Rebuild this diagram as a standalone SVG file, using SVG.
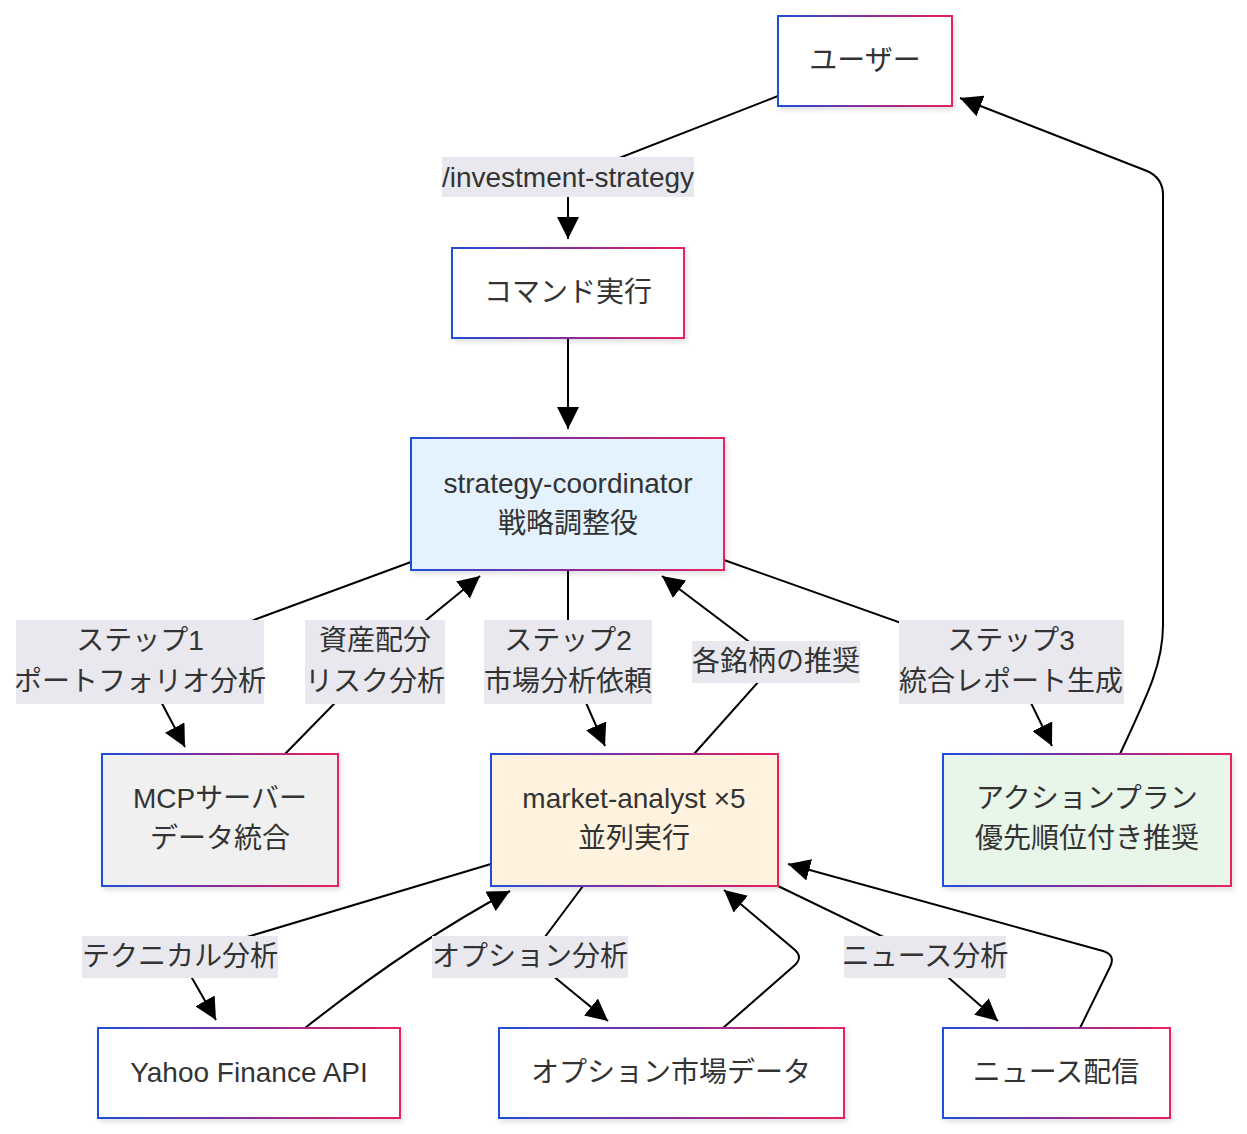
<svg xmlns="http://www.w3.org/2000/svg" width="1247" height="1134" viewBox="0 0 1247 1134">
<defs>
<linearGradient id="bd" x1="0" y1="0" x2="1" y2="0">
<stop offset="0" stop-color="#1f4fd8"/>
<stop offset="0.5" stop-color="#8a2c9a"/>
<stop offset="1" stop-color="#e8215e"/>
</linearGradient>
<filter id="sh" x="-10%" y="-10%" width="130%" height="130%">
<feDropShadow dx="2" dy="3" stdDeviation="2.5" flood-color="#000" flood-opacity="0.12"/>
</filter>
<marker id="ah" viewBox="0 0 10 10" refX="10" refY="5" markerUnits="userSpaceOnUse" markerWidth="22" markerHeight="22" orient="auto">
<path d="M0,0 L10,5 L0,10 z" fill="#000"/>
</marker>
</defs>
<style>
.n rect{stroke:url(#bd);stroke-width:2;filter:url(#sh)}
.t{font-family:"Liberation Sans","Noto Sans CJK JP",sans-serif;font-size:28px;fill:#333;text-anchor:middle;dominant-baseline:central}
.e{fill:none;stroke:#000;stroke-width:2;marker-end:url(#ah)}
.lb{fill:#e8e8ee}
</style>
<rect width="1247" height="1134" fill="#fff"/>
<g id="connectors">
<path class="e" d="M778,96 L568,178 L568,239"/>
<path class="e" d="M568,338 L568,429"/>
<path class="e" d="M411,562 L140,662 L185,747"/>
<path class="e" d="M285,754 L375,662 L480,576"/>
<path class="e" d="M568,570 L568,662 L605,746"/>
<path class="e" d="M694,754 L776,662 L662,576"/>
<path class="e" d="M724,560 L1011,662 L1052,746"/>
<path class="e" d="M1120,754 C1150,690 1163,662 1163,625 L1163,195 Q1163,178 1147,171 L960,98"/>
<path class="e" d="M491,864 L180,957 L216,1020"/>
<path class="e" d="M305,1028 Q414,942 510,891"/>
<path class="e" d="M583,886 L530,957 L608,1021"/>
<path class="e" d="M723,1028 L795,965 Q803,957 795,950 L724,890"/>
<path class="e" d="M778,886 L925,957 L998,1021"/>
<path class="e" d="M1080,1028 L1110,967 Q1116,955 1103,951 L788,864"/>
</g>
<g id="edge-labels">
<g id="lbl-invest"><rect class="lb" x="442" y="157" width="252" height="40"/><text class="t" x="568" y="177">/investment-strategy</text></g>
<g id="lbl-step1"><rect class="lb" x="16" y="620" width="248" height="84"/><text class="t" x="140" y="640">ステップ1</text><text class="t" x="140" y="681">ポートフォリオ分析</text></g>
<g id="lbl-asset"><rect class="lb" x="305" y="620" width="140" height="84"/><text class="t" x="375" y="640">資産配分</text><text class="t" x="375" y="681">リスク分析</text></g>
<g id="lbl-step2"><rect class="lb" x="484" y="620" width="168" height="84"/><text class="t" x="568" y="640">ステップ2</text><text class="t" x="568" y="681">市場分析依頼</text></g>
<g id="lbl-rec"><rect class="lb" x="692" y="641" width="168" height="42"/><text class="t" x="776" y="661">各銘柄の推奨</text></g>
<g id="lbl-step3"><rect class="lb" x="899" y="620" width="225" height="84"/><text class="t" x="1011" y="640">ステップ3</text><text class="t" x="1011" y="681">統合レポート生成</text></g>
<g id="lbl-tech"><rect class="lb" x="82" y="936" width="196" height="42"/><text class="t" x="180" y="956">テクニカル分析</text></g>
<g id="lbl-opt"><rect class="lb" x="432" y="936" width="196" height="42"/><text class="t" x="530" y="956">オプション分析</text></g>
<g id="lbl-news"><rect class="lb" x="844" y="936" width="162" height="42"/><text class="t" x="925" y="956">ニュース分析</text></g>
</g>
<g id="user" class="n"><rect x="778" y="16" width="174" height="90" fill="#fff"/><text class="t" x="865" y="60">ユーザー</text></g>
<g id="command" class="n"><rect x="452" y="248" width="232" height="90" fill="#fff"/><text class="t" x="568" y="292">コマンド実行</text></g>
<g id="coordinator" class="n"><rect x="411" y="438" width="313" height="132" fill="#e3f2fd"/><text class="t" x="568" y="483">strategy-coordinator</text><text class="t" x="568" y="523">戦略調整役</text></g>
<g id="mcp" class="n"><rect x="102" y="754" width="236" height="132" fill="#f0f0f0"/><text class="t" x="220" y="798">MCPサーバー</text><text class="t" x="220" y="838">データ統合</text></g>
<g id="analyst" class="n"><rect x="491" y="754" width="287" height="132" fill="#fff3e0"/><text class="t" x="634" y="798">market-analyst ×5</text><text class="t" x="634" y="838">並列実行</text></g>
<g id="action" class="n"><rect x="943" y="754" width="288" height="132" fill="#e8f5e9"/><text class="t" x="1087" y="798">アクションプラン</text><text class="t" x="1087" y="838">優先順位付き推奨</text></g>
<g id="yahoo" class="n"><rect x="98" y="1028" width="302" height="90" fill="#fff"/><text class="t" x="249" y="1072">Yahoo Finance API</text></g>
<g id="optdata" class="n"><rect x="499" y="1028" width="345" height="90" fill="#fff"/><text class="t" x="671" y="1072">オプション市場データ</text></g>
<g id="news" class="n"><rect x="943" y="1028" width="227" height="90" fill="#fff"/><text class="t" x="1056" y="1072">ニュース配信</text></g>
</svg>
